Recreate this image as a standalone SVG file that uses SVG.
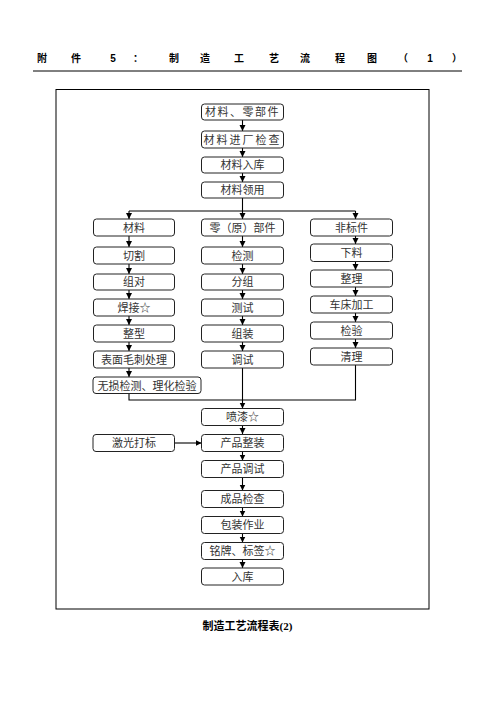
<svg xmlns="http://www.w3.org/2000/svg" width="496" height="702" viewBox="0 0 496 702">
<defs>
<marker id="ah" markerUnits="userSpaceOnUse" markerWidth="7" markerHeight="7" refX="6" refY="3" orient="auto">
<path d="M0,0 L6,3 L0,6 z" fill="#000"/>
</marker>
<style>
.b{fill:#fff;stroke:#222;stroke-width:1}
.t{font-family:"Liberation Serif","Noto Sans CJK SC",serif;font-size:11px;fill:#333;text-anchor:middle}
.h{font-family:"Liberation Sans","Noto Sans CJK SC",sans-serif;font-size:10px;font-weight:bold;fill:#000;text-anchor:middle}
.c{fill:none;stroke:#000;stroke-width:1.1}
.a{fill:none;stroke:#000;stroke-width:1.1;marker-end:url(#ah)}
</style>
</defs>
<rect width="496" height="702" fill="#fff"/>
<g id="header">
<text class="h" x="42" y="62">附</text><text class="h" x="76" y="62">件</text><text class="h" x="113" y="62">5</text><text class="h" x="138" y="62">：</text><text class="h" x="174" y="62">制</text><text class="h" x="205" y="62">造</text><text class="h" x="239" y="62">工</text><text class="h" x="274" y="62">艺</text><text class="h" x="305" y="62">流</text><text class="h" x="340" y="62">程</text><text class="h" x="372" y="62">图</text><text class="h" x="403" y="62">（</text><text class="h" x="430" y="62">1</text><text class="h" x="457" y="62">）</text>
<line x1="33" y1="71" x2="462" y2="71" stroke="#000" stroke-width="1"/>
</g>
<rect id="frame" x="56" y="89.5" width="373" height="519.5" fill="none" stroke="#000" stroke-width="1"/>
<g id="connectors">
<path class="a" d="M242.5,120 V131"/>
<path class="a" d="M242.5,148 V157"/>
<path class="a" d="M242.5,173 V182"/>
<path class="c" d="M242.5,198 V211 M129,211 H355.5"/>
<path class="a" d="M129,211 V219"/>
<path class="a" d="M242.5,211 V219"/>
<path class="a" d="M355.5,211 V219"/>
<path class="a" d="M129,236 V247"/>
<path class="a" d="M129,264 V274"/>
<path class="a" d="M129,290 V299"/>
<path class="a" d="M129,316 V325"/>
<path class="a" d="M129,342 V351"/>
<path class="a" d="M129,368 V377"/>
<path class="a" d="M242.5,236 V247"/>
<path class="a" d="M242.5,264 V274"/>
<path class="a" d="M242.5,290 V299"/>
<path class="a" d="M242.5,316 V325"/>
<path class="a" d="M242.5,342 V351"/>
<path class="a" d="M355.5,236 V244"/>
<path class="a" d="M355.5,261.5 V270"/>
<path class="a" d="M355.5,287 V296"/>
<path class="a" d="M355.5,313 V322"/>
<path class="a" d="M355.5,339 V348"/>
<path class="c" d="M129,393 V400 H355.5 V365"/>
<path class="a" d="M242.5,368 V408.5"/>
<path class="a" d="M242.5,425.5 V434"/>
<path class="a" d="M174.5,443 H201.5"/>
<path class="a" d="M242.5,451.5 V460.5"/>
<path class="a" d="M242.5,477.5 V490.5"/>
<path class="a" d="M242.5,507.5 V516.5"/>
<path class="a" d="M242.5,533.5 V542.5"/>
<path class="a" d="M242.5,559.5 V568"/>
</g>
<g id="n1"><rect class="b" x="201.5" y="104" width="82" height="16" rx="3"/><text class="t" x="242.5" y="116" letter-spacing="1.5">材料、零部件</text></g>
<g id="n2"><rect class="b" x="201.5" y="131" width="82" height="17" rx="3"/><text class="t" x="242.5" y="143.5" letter-spacing="2">材料进厂检查</text></g>
<g id="n3"><rect class="b" x="201.5" y="157" width="82" height="16" rx="3"/><text class="t" x="242.5" y="169">材料入库</text></g>
<g id="n4"><rect class="b" x="201.5" y="182" width="82" height="16" rx="3"/><text class="t" x="242.5" y="194">材料领用</text></g>
<g id="l1"><rect class="b" x="93.5" y="219" width="81" height="17" rx="3"/><text class="t" x="134" y="231.5">材料</text></g>
<g id="l2"><rect class="b" x="93.5" y="247" width="81" height="17" rx="3"/><text class="t" x="134" y="259.5">切割</text></g>
<g id="l3"><rect class="b" x="93.5" y="274" width="81" height="16" rx="3"/><text class="t" x="134" y="286">组对</text></g>
<g id="l4"><rect class="b" x="93.5" y="299" width="81" height="17" rx="3"/><text class="t" x="134" y="311.5">焊接☆</text></g>
<g id="l5"><rect class="b" x="93.5" y="325" width="81" height="17" rx="3"/><text class="t" x="134" y="337.5">整型</text></g>
<g id="l6"><rect class="b" x="93.5" y="351" width="81" height="17" rx="3"/><text class="t" x="134" y="363.5">表面毛刺处理</text></g>
<g id="l7"><rect class="b" x="93" y="377" width="108" height="16.5" rx="3"/><text class="t" x="147" y="389.5">无损检测、理化检验</text></g>
<g id="c1"><rect class="b" x="201.5" y="219" width="82" height="17" rx="3"/><text class="t" x="242.5" y="231.5">零（原）部件</text></g>
<g id="c2"><rect class="b" x="201.5" y="247" width="82" height="17" rx="3"/><text class="t" x="242.5" y="259.5">检测</text></g>
<g id="c3"><rect class="b" x="201.5" y="274" width="82" height="16" rx="3"/><text class="t" x="242.5" y="286">分组</text></g>
<g id="c4"><rect class="b" x="201.5" y="299" width="82" height="17" rx="3"/><text class="t" x="242.5" y="311.5">测试</text></g>
<g id="c5"><rect class="b" x="201.5" y="325" width="82" height="17" rx="3"/><text class="t" x="242.5" y="337.5">组装</text></g>
<g id="c6"><rect class="b" x="201.5" y="351" width="82" height="17" rx="3"/><text class="t" x="242.5" y="363.5">调试</text></g>
<g id="r1"><rect class="b" x="310.5" y="219" width="82" height="17" rx="3"/><text class="t" x="351.5" y="231.5">非标件</text></g>
<g id="r2"><rect class="b" x="310.5" y="244" width="82" height="17.5" rx="3"/><text class="t" x="351.5" y="256.5">下料</text></g>
<g id="r3"><rect class="b" x="310.5" y="270" width="82" height="17" rx="3"/><text class="t" x="351.5" y="282.5">整理</text></g>
<g id="r4"><rect class="b" x="310.5" y="296" width="82" height="17" rx="3"/><text class="t" x="351.5" y="308.5">车床加工</text></g>
<g id="r5"><rect class="b" x="310.5" y="322" width="82" height="17" rx="3"/><text class="t" x="351.5" y="334.5">检验</text></g>
<g id="r6"><rect class="b" x="310.5" y="348" width="82" height="17" rx="3"/><text class="t" x="351.5" y="360.5">清理</text></g>
<g id="m1"><rect class="b" x="201.5" y="408.5" width="82" height="17" rx="3"/><text class="t" x="242.5" y="421">喷漆☆</text></g>
<g id="m0"><rect class="b" x="93" y="434.5" width="81.5" height="17" rx="3"/><text class="t" x="134" y="447">激光打标</text></g>
<g id="m2"><rect class="b" x="201.5" y="434.5" width="82" height="17" rx="3"/><text class="t" x="242.5" y="447">产品整装</text></g>
<g id="m3"><rect class="b" x="201.5" y="460.5" width="82" height="17" rx="3"/><text class="t" x="242.5" y="473">产品调试</text></g>
<g id="m4"><rect class="b" x="201.5" y="490.5" width="82" height="17" rx="3"/><text class="t" x="242.5" y="503">成品检查</text></g>
<g id="m5"><rect class="b" x="201.5" y="516.5" width="82" height="17" rx="3"/><text class="t" x="242.5" y="529">包装作业</text></g>
<g id="m6"><rect class="b" x="201.5" y="542.5" width="82" height="17" rx="3"/><text class="t" x="242.5" y="555">铭牌、标签☆</text></g>
<g id="m7"><rect class="b" x="201.5" y="568" width="82" height="17" rx="3"/><text class="t" x="242.5" y="580.5">入库</text></g>
<text id="caption" x="247.5" y="630" font-family="Liberation Serif,'Noto Sans CJK SC',serif" font-size="11" font-weight="bold" text-anchor="middle" fill="#000">制造工艺流程表(2)</text>
</svg>
